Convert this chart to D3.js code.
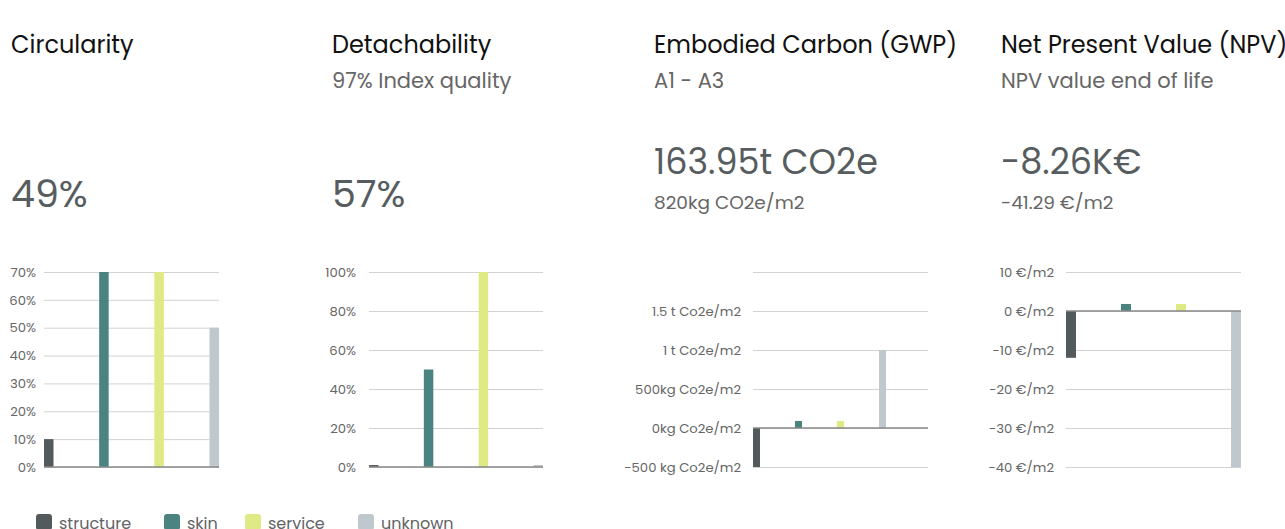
<!doctype html>
<html lang="en">
<head>
<meta charset="UTF-8">
<title>Building performance</title>
<style>
  body { margin: 0; background: #fff; }
  svg text { font-family: "Poppins", "Noto Sans", sans-serif; }
  .title { fill: #111; font-size: 24px; }
  .subtitle { fill: #666; font-size: 21px; }
  .big { fill: #575d5f; }
  .small { fill: #666; font-size: 18.5px; }
  .tick text { fill: #666; font-size: 13.2px; }
  .legend text { fill: #5f6466; font-size: 16px; }
</style>
</head>
<body>
<div id="chart"></div>
<script src="https://d3js.org/d3.v7.min.js"></script>
<script>
  const categories = ['structure', 'skin', 'service', 'unknown']
  const colors = ['#535a5b', '#4b8380', '#dfea86', '#bfc8cd']

  const circularityValues = [10, 70, 70, 50]
  const circularityTicks = [0, 10, 20, 30, 40, 50, 60, 70]

  const detachabilityValues = [1, 50, 100, 1]
  const detachabilityTicks = [0, 20, 40, 60, 80, 100]

  const carbonValues = [-500, 90, 90, 1000]
  const carbonTicks = [-500, 0, 500, 1000, 1500, 2000]
  const carbonTickLabels = ['-500 kg Co2e/m2', '0kg Co2e/m2', '500kg Co2e/m2', '1 t Co2e/m2', '1.5 t Co2e/m2', '']

  const npvValues = [-12, 1.8, 1.8, -40]
  const npvTicks = [-40, -30, -20, -10, 0, 10]

  const width = 1285
  const height = 529

  const svg = d3.select('#chart')
    .append('svg')
    .attr('width', width)
    .attr('height', height)

  const panels = [
    {
      left: 11, title: 'Circularity', subtitle: '', big: '49%', bigY: 207, bigSize: 38, small: '',
      values: circularityValues, ticks: circularityTicks, fmt: d => d + '%',
      x0: 44, x1: 219, barW: 9.5, spread: true, pad: 8
    },
    {
      left: 332, title: 'Detachability', subtitle: '97% Index quality', big: '57%', bigY: 207, bigSize: 38, small: '',
      values: detachabilityValues, ticks: detachabilityTicks, fmt: d => d + '%',
      x0: 369, x1: 543, barW: 9.5, spread: true, pad: 13
    },
    {
      left: 654, title: 'Embodied Carbon (GWP)', subtitle: 'A1 - A3', big: '163.95t CO2e', bigY: 174, bigSize: 35, small: '820kg CO2e/m2',
      values: carbonValues, ticks: carbonTicks, fmt: (d, i) => carbonTickLabels[i],
      x0: 753, x1: 928, barW: 7, spread: false, pad: 12
    },
    {
      left: 1001, title: 'Net Present Value (NPV)', subtitle: 'NPV value end of life', big: '-8.26K€', bigY: 174, bigSize: 35, small: '-41.29 €/m2',
      values: npvValues, ticks: npvTicks, fmt: d => d + ' €/m2',
      x0: 1066, x1: 1241, barW: 10, spread: true, pad: 12
    }
  ]

  panels.forEach(p => {
    const g = svg.append('g')

    g.append('text').attr('class', 'title').attr('x', p.left).attr('y', 53).text(p.title)
    if (p.subtitle) {
      g.append('text').attr('class', 'subtitle').attr('x', p.left).attr('y', 88).text(p.subtitle)
    }
    g.append('text').attr('class', 'big').attr('x', p.left).attr('y', p.bigY)
      .style('font-size', p.bigSize + 'px').text(p.big)
    if (p.small) {
      g.append('text').attr('class', 'small').attr('x', p.left).attr('y', 209).text(p.small)
    }

    const y = d3.scaleLinear()
      .domain(d3.extent(p.ticks))
      .range([467, 272])

    // bars sit at the left of each slot; for "spread" panels the last one ends at the right edge
    let x
    if (p.spread) {
      x = d3.scalePoint().domain(categories).range([p.x0, p.x1 - p.barW])
    } else {
      x = d3.scaleBand().domain(categories).range([p.x0, p.x1 - 7]).align(0)
    }

    const yAxis = d3.axisLeft(y)
      .tickValues(p.ticks)
      .tickFormat(p.fmt)
      .tickSize(-(p.x1 - p.x0))

    const axis = g.append('g')
      .attr('transform', `translate(${p.x0}, 0)`)
      .call(yAxis)
    axis.select('.domain').remove()
    axis.selectAll('.tick line').attr('stroke', '#d2d2d2')
    axis.selectAll('.tick text').attr('x', -p.pad)

    g.selectAll('.bar')
      .data(p.values)
      .enter()
      .append('rect')
      .attr('x', (d, i) => x(categories[i]))
      .attr('width', p.barW)
      .attr('y', d => y(Math.max(0, d)))
      .attr('height', d => Math.abs(y(d) - y(0)))
      .attr('fill', (d, i) => colors[i])

    g.append('line')
      .attr('x1', p.x0)
      .attr('x2', p.x1)
      .attr('y1', y(0))
      .attr('y2', y(0))
      .attr('stroke', '#8a8a8a')
      .attr('stroke-width', 1.5)
  })

  // legend, runs off the bottom edge like the original
  const legendX = [36, 164, 245, 358]
  const legend = svg.append('g').attr('class', 'legend')
  categories.forEach((c, i) => {
    const item = legend.append('g').attr('transform', `translate(${legendX[i]}, 514)`)
    item.append('rect')
      .attr('width', 16)
      .attr('height', 16)
      .attr('rx', 3)
      .attr('fill', colors[i])
    item.append('text')
      .attr('x', 23)
      .attr('y', 15)
      .text(c)
  })
</script>
</body>
</html>
